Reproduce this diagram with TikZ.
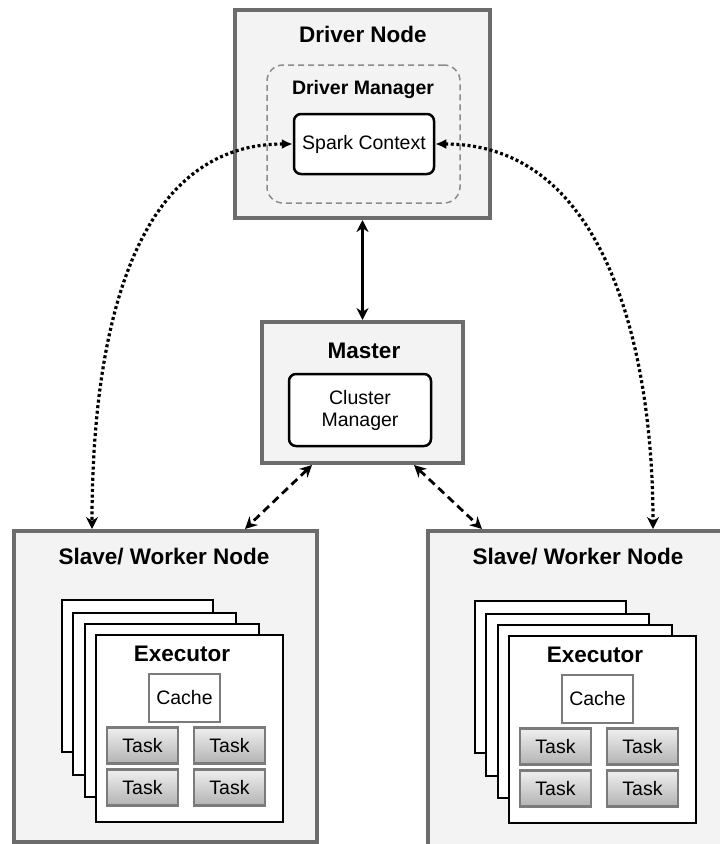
\documentclass[tikz,border=0pt]{standalone}
\usepackage{fontspec}
\setmainfont{Liberation Sans}
\usepackage{tikz}
\usetikzlibrary{arrows.meta}

\definecolor{boxgray}{HTML}{F3F3F3}
\definecolor{rimgray}{HTML}{6C6C6C}

\tikzset{
  outerbox/.style={draw=rimgray, line width=4pt, fill=boxgray},
  roundbox/.style={draw=black, line width=2.5pt, fill=white, rounded corners=7pt, align=center},
  mgrbox/.style={draw=black!45, line width=1.5pt, dash pattern=on 6pt off 4pt, rounded corners=16pt},
  card/.style={draw=black, line width=2.5pt, fill=white},
  cachebox/.style={draw=rimgray!90, line width=2.5pt, fill=white, minimum width=71pt, minimum height=48pt},
  taskbox/.style={draw=rimgray!90, line width=2.5pt, top color=black!6, bottom color=black!30, minimum width=71pt, minimum height=36pt},
  bigtitle/.style={font=\fontsize{22.5}{26}\selectfont\bfseries},
  subtitle/.style={font=\fontsize{19.5}{23}\selectfont\bfseries},
  plain/.style={font=\fontsize{19.5}{22}\selectfont},
  link/.style={line width=2.5pt, {Stealth[length=12pt,width=12pt]}-{Stealth[length=12pt,width=12pt]}},
  dotlink/.style={line width=3.2pt, dash pattern=on 3pt off 2.6pt},
  dashlink/.style={line width=2.8pt, dash pattern=on 8pt off 5pt}
}

\begin{document}
\begin{tikzpicture}[x=1pt,y=-1pt]
\clip (0,0) rectangle (720,844);
\fill[white] (0,0) rectangle (720,844);

% driver side
\node[outerbox, minimum width=255pt, minimum height=208pt] (driver) at (362.5,114) {};
\node[bigtitle] (tDriver) at (363,34) {Driver Node};
\node[mgrbox, minimum width=193pt, minimum height=138pt] (drvmgr) at (363.5,134) {};
\node[subtitle] (tDrvMgr) at (363,89) {Driver Manager};
\node[roundbox, plain, minimum width=140pt, minimum height=60pt] (spark) at (364,144) {Spark Context};

% master
\node[outerbox, minimum width=201pt, minimum height=141pt] (master) at (362.5,392.5) {};
\node[bigtitle] (tMaster) at (364,351) {Master};
\node[roundbox, plain, minimum width=142pt, minimum height=72pt] (cluster) at (360,410) {Cluster\\Manager};

% workers
\node[outerbox, minimum width=303pt, minimum height=311pt] (workerL) at (165.5,686.5) {};
\node[outerbox, minimum width=303pt, minimum height=320pt] (workerR) at (579.5,691) {};
\node[bigtitle] (tWorkerL) at (164,557) {Slave/ Worker Node};
\node[bigtitle] (tWorkerR) at (578,557) {Slave/ Worker Node};

\foreach \s/\dx/\dy in {L/0/0, R/413/1}{
  \begin{scope}[shift={(\dx,\dy)}]
    \draw[card] (62,600) rectangle (213,752);
    \draw[card] (73,613) rectangle (236,775);
    \draw[card] (85,624) rectangle (259,797);
    \draw[card] (96,635) rectangle (283,822);
    \node[bigtitle] (exec\s) at (182,654) {Executor};
    \node[cachebox, plain] (cache\s) at (184.5,698) {Cache};
    \node[taskbox, plain] (task\s a) at (142.5,745.5) {Task};
    \node[taskbox, plain] (task\s b) at (229.5,745.5) {Task};
    \node[taskbox, plain] (task\s c) at (142.5,787.5) {Task};
    \node[taskbox, plain] (task\s d) at (229.5,787.5) {Task};
  \end{scope}
}

% connector ends on the worker tops
\coordinate (dotL) at (92,529);
\coordinate (dotR) at (653,529);
\coordinate (mstL) at (312,465);
\coordinate (mstR) at (414,465);
\coordinate (dashL) at (245,529);
\coordinate (dashR) at (482,529);

\draw[link] (driver.south) -- (master.north);
\draw[dotlink, {Latex[length=11pt,width=10pt]}-{Stealth[length=12pt,width=12pt]}]
  (spark.west) to[out=180,in=90] (dotL);
\draw[dotlink, {Latex[length=11pt,width=10pt]}-{Stealth[length=12pt,width=12pt]}]
  (spark.east) to[out=0,in=90] (dotR);
\draw[dashlink, {Stealth[length=12pt,width=12pt]}-{Stealth[length=12pt,width=12pt]}] (mstL) -- (dashL);
\draw[dashlink, {Stealth[length=12pt,width=12pt]}-{Stealth[length=12pt,width=12pt]}] (mstR) -- (dashR);
\end{tikzpicture}
\end{document}
